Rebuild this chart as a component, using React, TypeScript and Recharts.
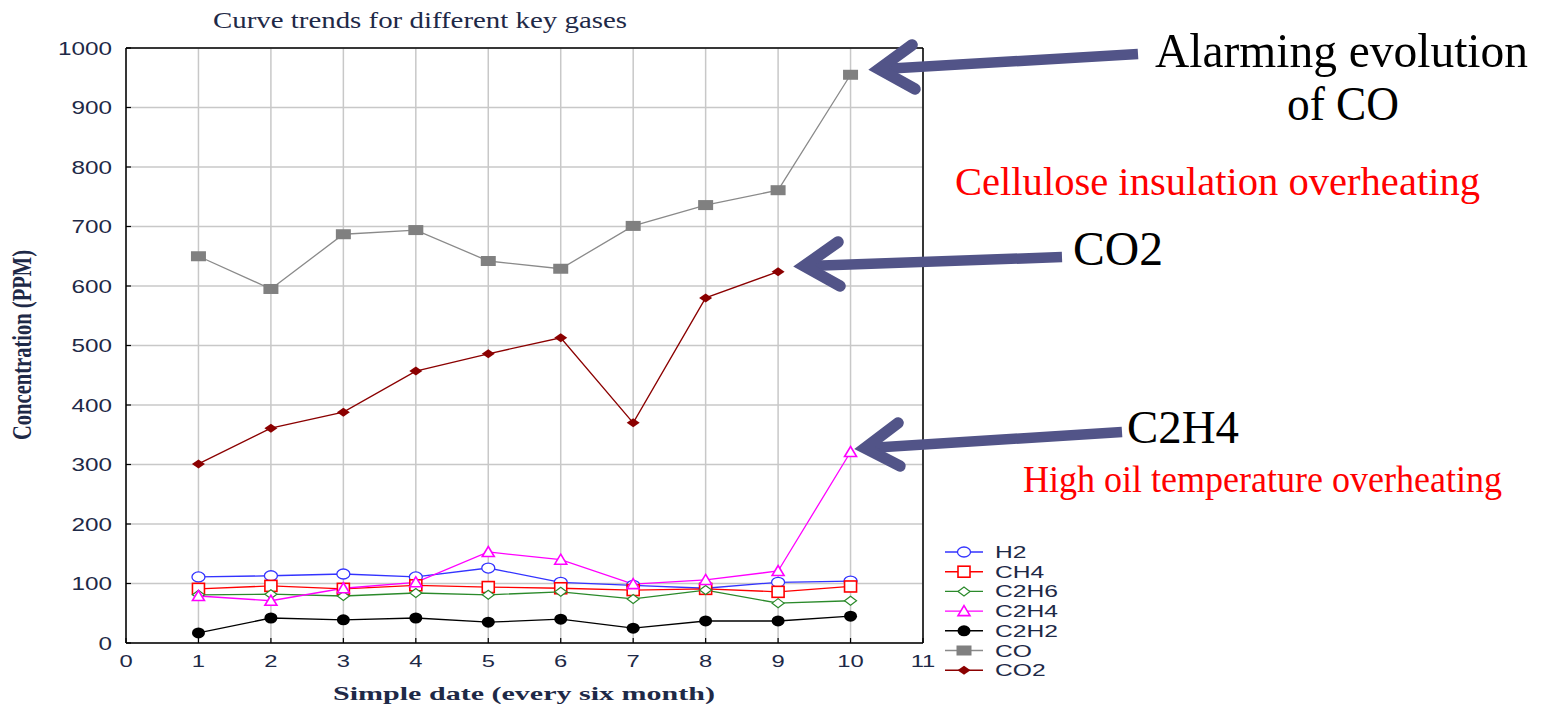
import { LineChart, Line, XAxis, YAxis, CartesianGrid, Legend } from "recharts";

// sample dates (every six months) and gas concentrations in ppm
const dates = [1, 2, 3, 4, 5, 6, 7, 8, 9, 10];
const h2 = [111, 113, 116, 111, 126, 102, 97, 92, 102, 104];
const ch4 = [91, 96, 91, 97, 94, 92, 89, 91, 86, 95];
const c2h6 = [81, 82, 79, 84, 81, 86, 74, 89, 67, 71];
const c2h4 = [79, 71, 92, 102, 153, 140, 99, 106, 121, 321];
const c2h2 = [17, 42, 39, 42, 35, 40, 25, 37, 37, 45];
const co = [650, 595, 687, 694, 642, 629, 701, 736, 761, 955];
const co2 = [301, 361, 388, 457, 486, 513, 370, 580, 624, null];

const xTicks = [0, 1, 2, 3, 4, 5, 6, 7, 8, 9, 10, 11];
const yTicks = [0, 100, 200, 300, 400, 500, 600, 700, 800, 900, 1000];

const NAVY = "#1e2947";
const ARROW = "#525488";

const SERIES = [
  { key: "H2", values: h2, color: "#3333ff", marker: "circle" },
  { key: "CH4", values: ch4, color: "#ff0000", marker: "square" },
  { key: "C2H6", values: c2h6, color: "#2b8a2b", marker: "diamond" },
  { key: "C2H4", values: c2h4, color: "#ff00ff", marker: "triangle" },
  { key: "C2H2", values: c2h2, color: "#000000", marker: "dot" },
  { key: "CO", values: co, color: "#8a8a8a", marker: "filledSquare" },
  { key: "CO2", values: co2, color: "#8b0000", marker: "filledDiamond" },
];

const data = dates.map((d, i) => {
  const row: any = { date: d };
  SERIES.forEach((s) => (row[s.key] = s.values[i]));
  return row;
});

function Marker({ kind, cx, cy, color }: { kind: string; cx: number; cy: number; color: string }) {
  switch (kind) {
    case "circle":
      return <ellipse cx={cx} cy={cy} rx={6.5} ry={5} fill="#fff" stroke={color} strokeWidth={1.3} />;
    case "square":
      return <rect x={cx - 6} y={cy - 5.5} width={12} height={11} fill="#fff" stroke={color} strokeWidth={1.6} />;
    case "diamond":
      return (
        <polygon
          points={`${cx - 6},${cy} ${cx},${cy - 4.5} ${cx + 6},${cy} ${cx},${cy + 4.5}`}
          fill="#fff"
          stroke={color}
          strokeWidth={1.2}
        />
      );
    case "triangle":
      return (
        <polygon
          points={`${cx},${cy - 5.5} ${cx + 6},${cy + 4.5} ${cx - 6},${cy + 4.5}`}
          fill="#fff"
          stroke={color}
          strokeWidth={1.6}
        />
      );
    case "dot":
      return <ellipse cx={cx} cy={cy} rx={6.5} ry={5.5} fill="#000" />;
    case "filledSquare":
      return <rect x={cx - 7.5} y={cy - 5} width={15} height={10} fill="#808080" />;
    default:
      return (
        <polygon
          points={`${cx - 6.5},${cy} ${cx},${cy - 4.5} ${cx + 6.5},${cy} ${cx},${cy + 4.5}`}
          fill={color}
        />
      );
  }
}

const YTick = (p: any) => (
  <text
    transform={`translate(112,${p.y + 6.5}) scale(1.35,1)`}
    textAnchor="end"
    fontSize={18}
    fontFamily="'Liberation Sans', Arial, sans-serif"
    fill={NAVY}
  >
    {p.payload.value}
  </text>
);

const XTick = (p: any) => (
  <text
    transform={`translate(${p.x},667) scale(1.4,1)`}
    textAnchor="middle"
    fontSize={17}
    fontFamily="'Liberation Sans', Arial, sans-serif"
    fill={NAVY}
  >
    {p.payload.value}
  </text>
);

const LegendBox = () => (
  <svg width={140} height={150}>
    {SERIES.map((s, i) => {
      const y = 14 + i * 19.7;
      return (
        <g key={s.key}>
          <line x1={10} x2={48} y1={y} y2={y} stroke={s.color} strokeWidth={1.4} />
          <Marker kind={s.marker} cx={29} cy={y} color={s.color} />
          <text
            transform={`translate(60,${y + 6}) scale(1.45,1)`}
            fontSize={17}
            fontFamily="'Liberation Sans', Arial, sans-serif"
            fill={NAVY}
          >
            {s.key}
          </text>
        </g>
      );
    })}
  </svg>
);

// tip = visible point of the arrowhead; the stroke miter sticks out ~12px past the join
function Arrow({ tip, tail, a1, a2 }: { tip: number[]; tail: number[]; a1: number[]; a2: number[] }) {
  const jx = tip[0] + 12;
  return (
    <g>
      <line x1={tail[0]} y1={tail[1]} x2={jx + 4} y2={tip[1]} stroke={ARROW} strokeWidth={10.5} />
      <polyline
        points={`${a1[0]},${a1[1]} ${jx},${tip[1]} ${a2[0]},${a2[1]}`}
        fill="none"
        stroke={ARROW}
        strokeWidth={11.5}
        strokeLinecap="round"
        strokeLinejoin="miter"
      />
    </g>
  );
}

export default function App() {
  return (
    <div style={{ position: "absolute", left: 0, top: 0, width: 1548, height: 706, background: "#fff" }}>
      <LineChart width={1548} height={706} data={data} margin={{ top: 47, right: 624, bottom: 0, left: 0 }}>
        <CartesianGrid stroke="#c8c8c8" strokeWidth={1.5} />
        <XAxis
          dataKey="date"
          type="number"
          domain={[0, 11]}
          ticks={xTicks}
          interval={0}
          height={63}
          tickSize={-5}
          axisLine={{ stroke: "#000", strokeWidth: 1.5 }}
          tickLine={{ stroke: "#000", strokeWidth: 1.2 }}
          tick={<XTick />}
        />
        <XAxis
          xAxisId="top"
          orientation="top"
          dataKey="date"
          type="number"
          domain={[0, 11]}
          ticks={xTicks}
          interval={0}
          height={1}
          tickSize={-5}
          axisLine={{ stroke: "#000", strokeWidth: 1.5 }}
          tickLine={{ stroke: "#000", strokeWidth: 1.2 }}
          tick={false}
        />
        <YAxis
          type="number"
          domain={[0, 1000]}
          ticks={yTicks}
          interval={0}
          width={126}
          tickSize={-5}
          axisLine={{ stroke: "#000", strokeWidth: 1.5 }}
          tickLine={{ stroke: "#000", strokeWidth: 1.2 }}
          tick={<YTick />}
        />
        <YAxis
          yAxisId="right"
          orientation="right"
          type="number"
          domain={[0, 1000]}
          ticks={yTicks}
          interval={0}
          width={1}
          tickSize={-5}
          axisLine={{ stroke: "#000", strokeWidth: 1.5 }}
          tickLine={{ stroke: "#000", strokeWidth: 1.2 }}
          tick={false}
        />
        {SERIES.map((s) => (
          <Line
            key={s.key}
            dataKey={s.key}
            stroke={s.color}
            strokeWidth={1.3}
            isAnimationActive={false}
            dot={(p: any) =>
              p.cx == null || p.cy == null || p.value == null ? (
                <g key={`${s.key}-${p.index}`} />
              ) : (
                <g key={`${s.key}-${p.index}`}>
                  <Marker kind={s.marker} cx={p.cx} cy={p.cy} color={s.color} />
                </g>
              )
            }
            activeDot={false}
          />
        ))}
        <Legend
          layout="vertical"
          align="center"
          verticalAlign="middle"
          wrapperStyle={{ left: 935, top: 538, width: 140, height: 150 }}
          content={() => <LegendBox />}
        />
      </LineChart>

      <svg width={1548} height={706} style={{ position: "absolute", left: 0, top: 0, pointerEvents: "none" }}>
        <text x={213} y={28} textLength={414} lengthAdjust="spacingAndGlyphs" fontSize={24}
          fontFamily="'Liberation Serif', 'Times New Roman', serif" fill={NAVY}>
          Curve trends for different key gases
        </text>
        <text x={333} y={700} textLength={382} lengthAdjust="spacingAndGlyphs" fontSize={19} fontWeight="bold"
          fontFamily="'Liberation Serif', 'Times New Roman', serif" fill={NAVY}>
          Simple date (every six month)
        </text>
        <text transform="translate(31,345) rotate(-90)" textAnchor="middle" textLength={190}
          lengthAdjust="spacingAndGlyphs" fontSize={27} fontWeight="bold"
          fontFamily="'Liberation Serif', 'Times New Roman', serif" fill={NAVY}>
          Concentration (PPM)
        </text>

        <Arrow tip={[867, 69]} tail={[1138, 54]} a1={[912, 45]} a2={[915, 89]} />
        <Arrow tip={[792, 266]} tail={[1062, 257]} a1={[838, 242]} a2={[840, 286]} />
        <Arrow tip={[853, 448]} tail={[1122, 432]} a1={[898, 423]} a2={[900, 466]} />

        <g fontFamily="'Liberation Serif', 'Times New Roman', serif">
          <text x={1155} y={67} textLength={373} lengthAdjust="spacingAndGlyphs" fontSize={49} fill="#000">
            Alarming evolution
          </text>
          <text x={1287} y={120} textLength={112} lengthAdjust="spacingAndGlyphs" fontSize={49} fill="#000">
            of CO
          </text>
          <text x={955} y={195} textLength={525} lengthAdjust="spacingAndGlyphs" fontSize={40} fill="#ff0000">
            Cellulose insulation overheating
          </text>
          <text x={1073} y={265} textLength={90} lengthAdjust="spacingAndGlyphs" fontSize={48} fill="#000">
            CO2
          </text>
          <text x={1127} y={443} textLength={112} lengthAdjust="spacingAndGlyphs" fontSize={47} fill="#000">
            C2H4
          </text>
          <text x={1023} y={492} textLength={479} lengthAdjust="spacingAndGlyphs" fontSize={37} fill="#ff0000">
            High oil temperature overheating
          </text>
        </g>
      </svg>
    </div>
  );
}
